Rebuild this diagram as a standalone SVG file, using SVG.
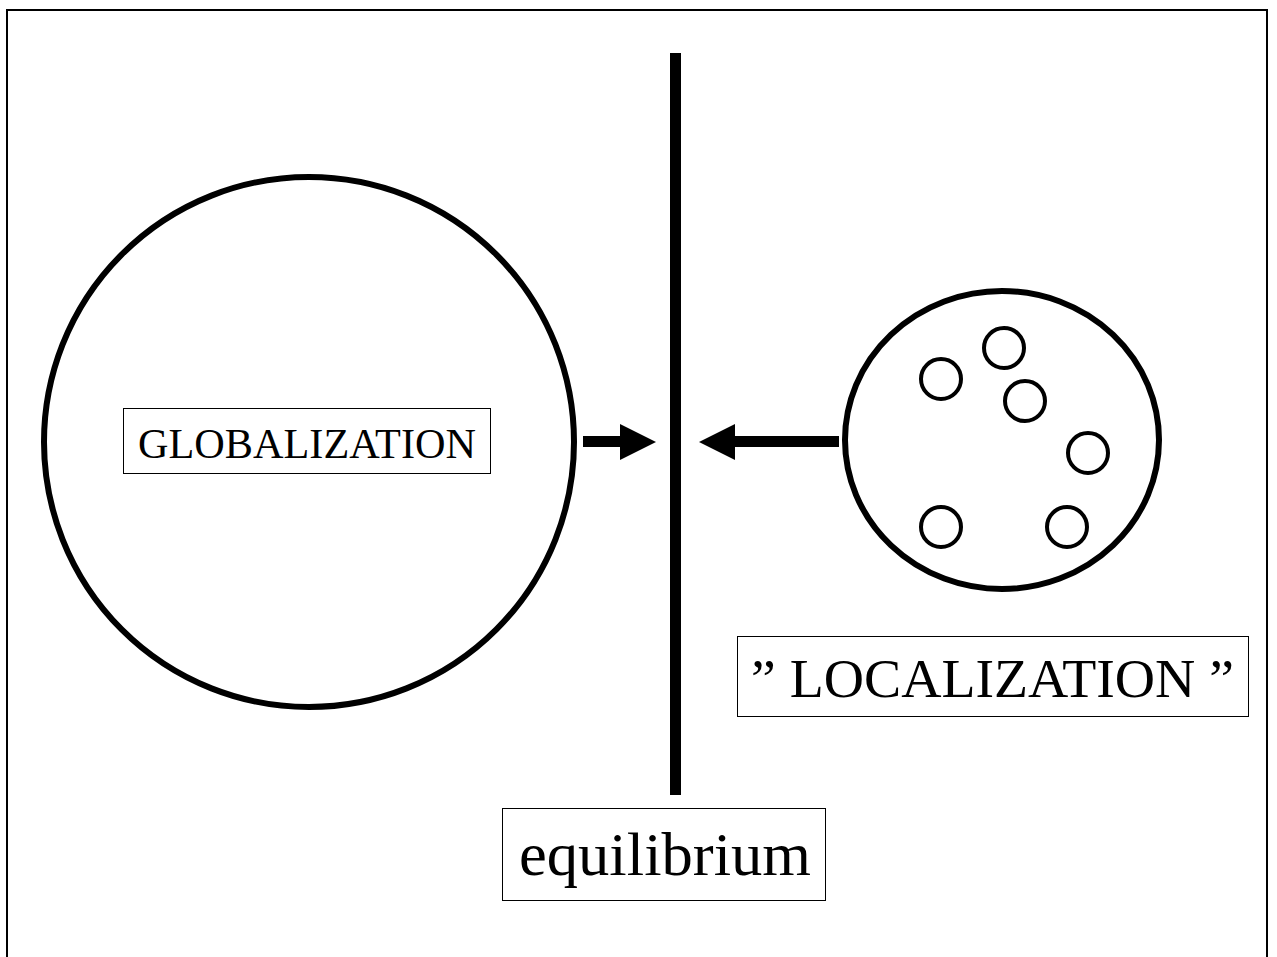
<svg xmlns="http://www.w3.org/2000/svg" width="1277" height="957" viewBox="0 0 1277 957">
<style>
.thick{fill:none;stroke:#000;stroke-width:6}
.small{fill:none;stroke:#000;stroke-width:4}
.box{fill:#fff;stroke:#000;stroke-width:1}
.lbl{font-family:"Liberation Serif","Times New Roman",serif;fill:#000}
</style>
<rect x="0" y="0" width="1277" height="957" fill="#fff"/>
<rect x="7" y="10" width="1260" height="960" fill="none" stroke="#000" stroke-width="2"/>
<g id="globalization">
<circle class="thick" cx="309" cy="442" r="265"/>
<rect class="box" x="123.5" y="408.5" width="367" height="65"/>
<text class="lbl" x="138" y="458" font-size="43" textLength="338" lengthAdjust="spacingAndGlyphs">GLOBALIZATION</text>
</g>
<g id="localization">
<ellipse class="thick" cx="1002" cy="440" rx="157" ry="149"/>
<circle class="small" cx="941" cy="379" r="20"/>
<circle class="small" cx="1004" cy="348" r="20"/>
<circle class="small" cx="1025" cy="401" r="20"/>
<circle class="small" cx="1088" cy="453" r="20"/>
<circle class="small" cx="941" cy="527" r="20"/>
<circle class="small" cx="1067" cy="527" r="20"/>
<rect class="box" x="737.5" y="636.5" width="511" height="80"/>
<text class="lbl" x="751" y="697" font-size="54" textLength="483" lengthAdjust="spacingAndGlyphs">” LOCALIZATION ”</text>
</g>
<g id="equilibrium">
<rect x="670" y="53" width="11" height="742" fill="#000"/>
<rect class="box" x="502.5" y="808.5" width="323" height="92"/>
<text class="lbl" x="519" y="875" font-size="62" textLength="292" lengthAdjust="spacingAndGlyphs">equilibrium</text>
</g>
<g id="connectors">
<path d="M583 436H620V424L656 442L620 460V447H583Z" fill="#000"/>
<path d="M839 436H735V424L699 442L735 460V447H839Z" fill="#000"/>
</g>
</svg>
